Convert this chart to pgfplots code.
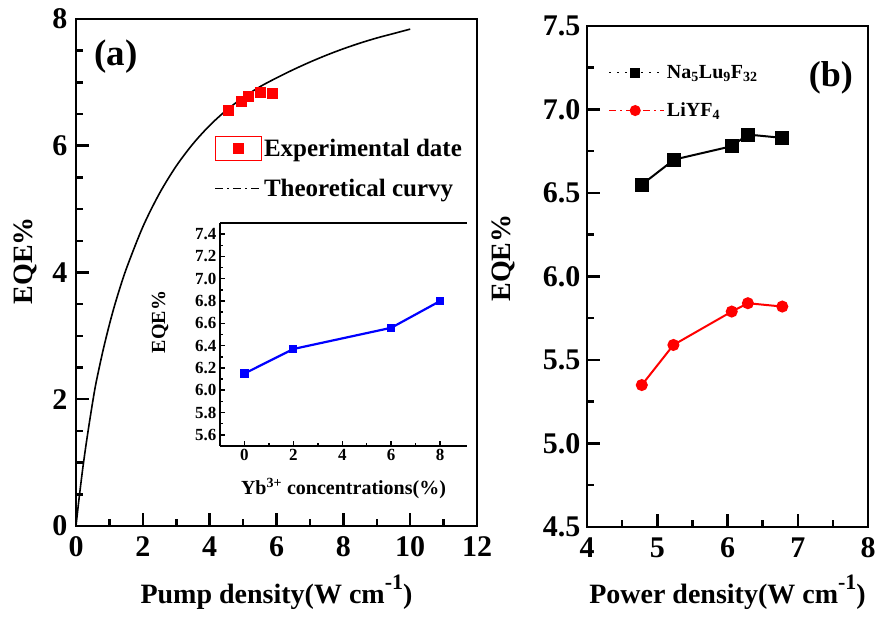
\documentclass[border=0pt]{standalone}
\usepackage{fontspec}
\setmainfont{Liberation Serif}
\usepackage{pgfplots}
\pgfplotsset{compat=1.18}
\newcommand\sups[1]{\raisebox{0.5em}{\fontsize{22}{22}\selectfont #1}}
\begin{document}
\begin{tikzpicture}
\path[use as bounding box] (0pt,0pt) rectangle (877pt,617pt);
\pgfplotsset{
  panel/.style={
    scale only axis, anchor=south west,
    axis line style={line width=2.5pt},
    tick align=inside, xtick pos=left, ytick pos=left,
    major tick length=13pt, minor tick length=7pt,
    tick style={black, line width=2.5pt},
    /pgf/number format/assume math mode=true,
    tick label style={font=\fontsize{30}{30}\selectfont\bfseries},
    xticklabel style={yshift=-7pt},
    label style={font=\fontsize{28}{30}\selectfont\bfseries},
    xlabel style={at={(axis description cs:0.5,-0.152)}, anchor=base},
  }
}
% ---------- panel (a) ----------
\begin{axis}[panel, at={(76pt,91pt)}, width=401pt, height=507pt,
    xmin=0, xmax=12, ymin=0, ymax=8,
    xtick={0,2,4,6,8,10,12}, ytick={0,2,4,6,8},
    minor x tick num=1, minor y tick num=3,
    yticklabel style={xshift=-5pt},
    xlabel={Pump density(W cm\sups{-1})},
    ylabel={EQE\%},
    ylabel style={at={(axis description cs:-0.127,0.523)}, anchor=center},
    legend style={at={(axis cs:4.05,6.19)}, anchor=north west, draw=none, fill=none,
        font=\fontsize{25}{27}\selectfont\bfseries, row sep=17pt,
        /tikz/every even column/.append style={column sep=5pt}},
    legend cell align=left,
]
% theoretical curve
\addplot[black, line width=1.6pt, smooth, forget plot] coordinates {
 (0,0) (0.05,0.24) (0.1,0.47) (0.2,0.90) (0.3,1.28) (0.4,1.63) (0.5,1.96)
 (0.6,2.26) (0.8,2.75) (1.0,3.18) (1.2,3.56) (1.5,4.05) (2.0,4.72) (2.5,5.25)
 (3.0,5.68) (3.5,6.03) (4.0,6.32) (4.5,6.56) (5.0,6.76) (5.5,6.93) (6.0,7.07)
 (6.5,7.20) (7.0,7.32) (7.5,7.43) (8.0,7.53) (8.5,7.62) (9.0,7.70) (9.5,7.77)
 (10.0,7.84)};
% experimental data
\addplot[only marks, mark=square*, red, mark size=5pt,
    legend image code/.code={
      \fill[red] (0pt,-12pt) rectangle (46pt,12pt);
      \fill[white] (1.2pt,-10.8pt) rectangle (44.8pt,10.8pt);
      \fill[red] (18pt,-5pt) rectangle (28pt,5pt);}]
  coordinates {(4.55,6.56) (4.94,6.70) (5.15,6.78) (5.51,6.84) (5.87,6.83)};
\addlegendentry{Experimental date}
\addlegendimage{legend image code/.code={
    \draw[black, line width=1.5pt, dash pattern=on 8pt off 4pt on 2pt off 4pt] (0pt,0pt) -- (46pt,0pt);}}
\addlegendentry{Theoretical curvy}
\node[font=\fontsize{37}{37}\selectfont\bfseries] at (axis cs:1.2,7.41) {(a)};
\end{axis}
% ---------- inset ----------
\begin{axis}[scale only axis, anchor=south west, at={(220pt,171pt)}, width=247pt, height=223pt,
    xmin=-1, xmax=9.1, ymin=5.5, ymax=7.5,
    axis x line=box, axis y line=left, axis line style={line width=2pt, -},
    tick align=inside, xtick pos=left, ytick pos=left,
    major tick length=5pt, minor tick length=3pt,
    tick style={black, line width=1.5pt},
    xtick={0,2,4,6,8}, ytick={5.6,5.8,6.0,6.2,6.4,6.6,6.8,7.0,7.2,7.4},
    minor x tick num=1, minor y tick num=1,
    /pgf/number format/assume math mode=true,
    tick label style={font=\fontsize{17}{17}\selectfont\bfseries},
    yticklabel style={/pgf/number format/.cd, fixed, fixed zerofill, precision=1},
    xlabel={Yb\textsuperscript{3+} concentrations(\%)},
    ylabel={EQE\%},
    label style={font=\fontsize{20}{22}\selectfont\bfseries},
    ylabel style={at={(axis description cs:-0.243,0.556)}, anchor=center},
    xlabel style={at={(axis description cs:0.5,-0.19)}, anchor=center},
]
\addplot[blue, line width=2.2pt, mark=square*, mark size=3pt] coordinates {
 (0,6.15) (2,6.37) (6,6.56) (8,6.80)};
\end{axis}
% ---------- panel (b) ----------
\begin{axis}[panel, at={(587pt,90pt)}, width=281pt, height=501pt,
    xmin=4, xmax=8, ymin=4.5, ymax=7.5,
    xtick={4,5,6,7,8}, ytick={4.5,5.0,5.5,6.0,6.5,7.0,7.5},
    minor x tick num=1, minor y tick num=1,
    yticklabel style={xshift=-3pt, /pgf/number format/.cd, fixed, fixed zerofill, precision=1},
    xlabel={Power density(W cm\sups{-1})},
    ylabel={EQE\%},
    ylabel style={at={(axis description cs:-0.299,0.537)}, anchor=center},
    legend style={at={(axis cs:4.26,7.29)}, anchor=north west, draw=none, fill=none,
        font=\fontsize{20}{22}\selectfont\bfseries, row sep=19pt,
        /tikz/every even column/.append style={column sep=3pt}},
    legend cell align=left,
]
\addplot[black, line width=2pt, mark=square*, mark size=6pt, mark options={solid},
    legend image code/.code={
      \draw[black, line width=1.5pt, dash pattern=on 2pt off 6pt] (0pt,0pt) -- (55pt,0pt);
      \fill[black] (22pt,-4pt) rectangle (30pt,4pt);}]
  coordinates {(4.78,6.55) (5.24,6.70) (6.06,6.78) (6.29,6.85) (6.78,6.83)};
\addlegendentry{Na\textsubscript{5}Lu\textsubscript{9}F\textsubscript{32}}
\addplot[red, line width=2pt, mark=*, mark size=5pt, mark options={solid},
    legend image code/.code={
      \draw[red, line width=1.5pt, dash pattern=on 7pt off 4pt on 2pt off 4pt] (0pt,0pt) -- (55pt,0pt);
      \fill[red] (26pt,0pt) circle (4.5pt);}]
  coordinates {(4.78,5.35) (5.23,5.59) (6.06,5.79) (6.29,5.84) (6.78,5.82)};
\addlegendentry{LiYF\textsubscript{4}}
\node[font=\fontsize{36}{36}\selectfont\bfseries] at (axis cs:7.47,7.19) {(b)};
\end{axis}
\end{tikzpicture}
\end{document}
